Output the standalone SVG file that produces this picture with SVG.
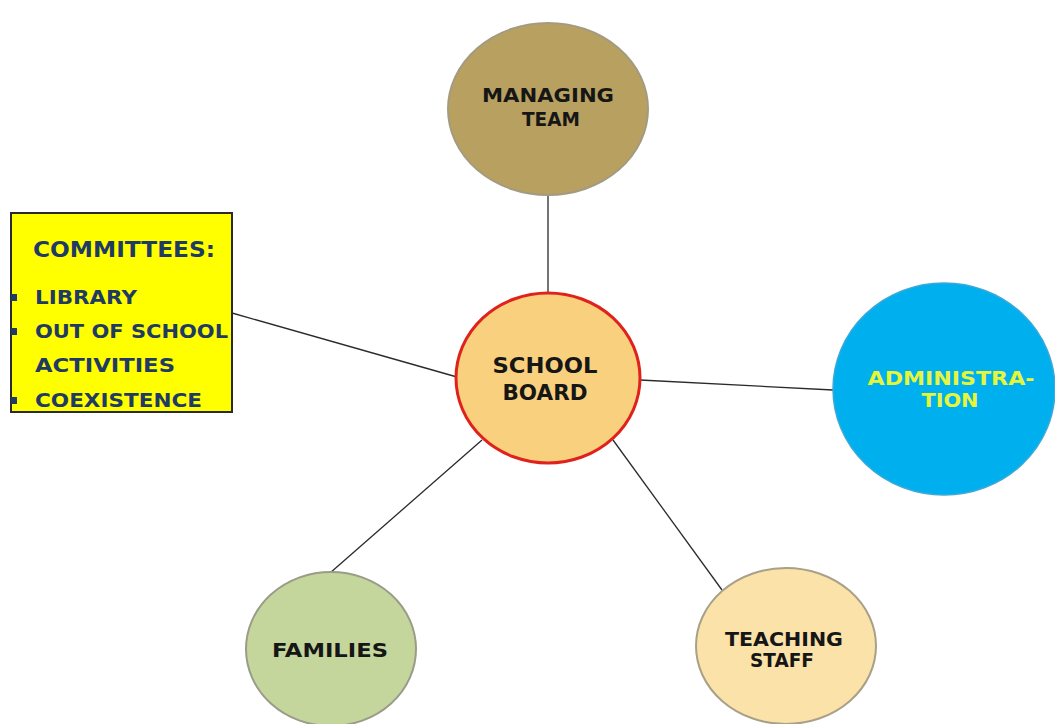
<svg xmlns="http://www.w3.org/2000/svg" width="1055" height="724" viewBox="0 0 1055 724">
  <style>
    .lbl { font-family: "DejaVu Sans", "Liberation Sans", sans-serif; font-weight: bold; text-anchor: middle; fill: #161616; }
    .com { font-family: "DejaVu Sans", "Liberation Sans", sans-serif; font-weight: bold; fill: #1f3b63; }
    .edge { stroke: #2a2a2a; stroke-width: 1.3; fill: none; }
    .bul { fill: #1f3b63; }
  </style>
  <rect width="1055" height="724" fill="#ffffff"/>

  <!-- connectors from the board to each group -->
  <g id="connectors">
    <line class="edge" x1="548" y1="195" x2="548" y2="293"/>
    <line class="edge" x1="232" y1="313" x2="457" y2="377"/>
    <line class="edge" x1="640" y1="380" x2="833" y2="390"/>
    <line class="edge" x1="482" y1="440" x2="330" y2="573"/>
    <line class="edge" x1="613" y1="440" x2="722" y2="590"/>
  </g>

  <g id="managing-team">
    <ellipse cx="548" cy="109" rx="100" ry="86" fill="#b8a060" stroke="#a39b80" stroke-width="2"/>
    <text class="lbl" x="548" y="102" font-size="20" textLength="132" lengthAdjust="spacingAndGlyphs">MANAGING</text>
    <text class="lbl" x="551" y="126" font-size="20" textLength="58" lengthAdjust="spacingAndGlyphs">TEAM</text>
  </g>

  <g id="school-board">
    <ellipse cx="548" cy="378" rx="92" ry="85" fill="#f9d07e" stroke="#e0221c" stroke-width="3"/>
    <text class="lbl" x="545" y="373" font-size="21" textLength="105" lengthAdjust="spacingAndGlyphs">SCHOOL</text>
    <text class="lbl" x="545" y="400" font-size="21" textLength="85" lengthAdjust="spacingAndGlyphs">BOARD</text>
  </g>

  <g id="administration">
    <ellipse cx="944" cy="389" rx="111" ry="106" fill="#00b0ee" stroke="#3aa8d8" stroke-width="1.5"/>
    <text class="lbl" x="951" y="385" font-size="19" style="fill:#e6f53a" textLength="167" lengthAdjust="spacingAndGlyphs">ADMINISTRA-</text>
    <text class="lbl" x="950" y="407" font-size="19" style="fill:#e6f53a" textLength="57" lengthAdjust="spacingAndGlyphs">TION</text>
  </g>

  <g id="families">
    <ellipse cx="331" cy="649" rx="85" ry="77" fill="#c4d69c" stroke="#9b9b8a" stroke-width="2"/>
    <text class="lbl" x="330" y="657" font-size="20" textLength="116" lengthAdjust="spacingAndGlyphs">FAMILIES</text>
  </g>

  <g id="teaching-staff">
    <ellipse cx="786" cy="646" rx="90" ry="78" fill="#fbe2a8" stroke="#a8a088" stroke-width="2"/>
    <text class="lbl" x="784" y="646" font-size="19" textLength="118" lengthAdjust="spacingAndGlyphs">TEACHING</text>
    <text class="lbl" x="782" y="667" font-size="19" textLength="64" lengthAdjust="spacingAndGlyphs">STAFF</text>
  </g>

  <g id="committees">
    <rect x="11" y="213" width="221" height="199" fill="#ffff00" stroke="#2a2a2a" stroke-width="2"/>
    <text class="com" x="33" y="257" font-size="21" textLength="182" lengthAdjust="spacingAndGlyphs">COMMITTEES:</text>
    <rect class="bul" x="11" y="294" width="6" height="7"/>
    <text class="com" x="35" y="304" font-size="19" textLength="102" lengthAdjust="spacingAndGlyphs">LIBRARY</text>
    <rect class="bul" x="11" y="328" width="6" height="7"/>
    <text class="com" x="35" y="338" font-size="19" textLength="193" lengthAdjust="spacingAndGlyphs">OUT OF SCHOOL</text>
    <text class="com" x="35" y="372" font-size="19" textLength="140" lengthAdjust="spacingAndGlyphs">ACTIVITIES</text>
    <rect class="bul" x="11" y="397" width="6" height="7"/>
    <text class="com" x="35" y="407" font-size="19" textLength="167" lengthAdjust="spacingAndGlyphs">COEXISTENCE</text>
  </g>
</svg>
